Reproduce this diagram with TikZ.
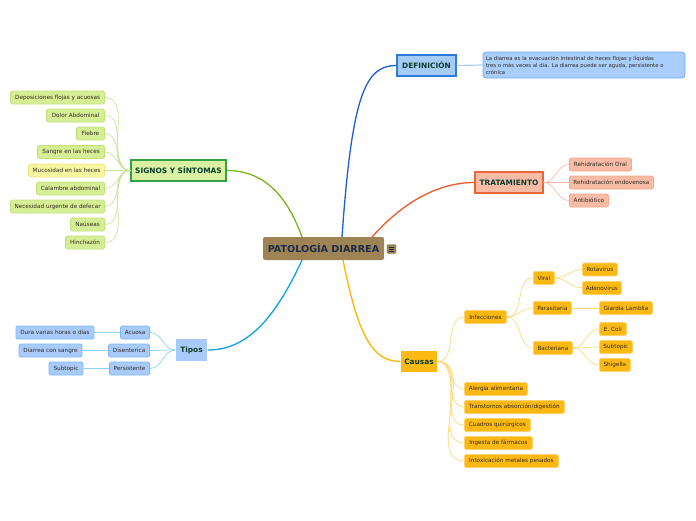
\documentclass[tikz,border=0pt]{standalone}
\usepackage{fontspec}
\setmainfont{DejaVu Sans}
\definecolor{cfill}{HTML}{9E8454}
\definecolor{ctext}{HTML}{1B2A4A}
\definecolor{ttext}{HTML}{0B3D2A}
\definecolor{ltext}{HTML}{2E2A1E}
\definecolor{sgfill}{HTML}{D9F2A2}
\definecolor{sgdraw}{HTML}{34A043}
\definecolor{sgline}{HTML}{7AB51D}
\definecolor{sgcfill}{HTML}{D6EE96}
\definecolor{sgcdraw}{HTML}{C3E07A}
\definecolor{sgcline}{HTML}{C9E39A}
\definecolor{mufill}{HTML}{F6F5A0}
\definecolor{mudraw}{HTML}{EDE580}
\definecolor{dffill}{HTML}{A6CBF7}
\definecolor{dfdraw}{HTML}{2E7BE0}
\definecolor{dfline}{HTML}{1B5FD1}
\definecolor{dtfill}{HTML}{A9CDFC}
\definecolor{dtdraw}{HTML}{78AAF0}
\definecolor{trfill}{HTML}{F8BBA6}
\definecolor{trdraw}{HTML}{E9653A}
\definecolor{trline}{HTML}{EE5A2A}
\definecolor{trcdraw}{HTML}{F3A98E}
\definecolor{trcline}{HTML}{F8BCA8}
\definecolor{cafill}{HTML}{FDB913}
\definecolor{caline}{HTML}{FDB400}
\definecolor{cacdraw}{HTML}{FDD26A}
\definecolor{cacline}{HTML}{FDD87A}
\definecolor{tifill}{HTML}{A9CBFC}
\definecolor{tiline}{HTML}{0AA3E8}
\definecolor{ticdraw}{HTML}{7DB8F4}
\definecolor{ticline}{HTML}{8DD0F8}
\tikzset{
  leaf/.style={rounded corners=1.5pt, minimum height=13pt, inner sep=0pt, line width=0.8pt,
    font=\fontsize{5.7}{6.5}\selectfont, text=ltext},
  title/.style={minimum height=21pt, inner sep=0pt, line width=1.1pt,
    font=\fontsize{7.4}{8.5}\selectfont\bfseries, text=ttext},
  sgleaf/.style={leaf, fill=sgcfill, draw=sgcdraw},
  trleaf/.style={leaf, fill=trfill, draw=trcdraw},
  caleaf/.style={leaf, fill=cafill, draw=cacdraw},
  tileaf/.style={leaf, fill=tifill, draw=ticdraw},
  mainline/.style={line width=1.3pt},
  subline/.style={line width=0.7pt},
}
\begin{document}
\begin{tikzpicture}[x=1pt,y=-1pt]
\useasboundingbox (0,0) rectangle (696,520);
% central
\node[fill=cfill, rounded corners=2pt, minimum width=121pt, minimum height=23pt, inner sep=0pt,
  font=\fontsize{9.6}{11}\selectfont\bfseries, text=ctext] (c) at (323.5,248.5) {PATOLOGÍA DIARREA};
\node[fill=cfill, draw=cfill!70!black, line width=0.4pt, rounded corners=1.2pt, minimum width=9pt, minimum height=9pt, inner sep=0pt] (icon) at (391.5,249) {};
\foreach \dy in {-2,0,2} \draw[line width=0.6pt, ctext] ([xshift=-2.3pt,yshift=\dy pt]icon.center) -- ++(4.6,0);
\coordinate (cn1) at (302,237);
\coordinate (cn2) at (342,237);
\coordinate (cn3) at (372,237);
\coordinate (cs1) at (302,260);
\coordinate (cs2) at (343,260);

% main branches
\node[title, fill=sgfill, draw=sgdraw, minimum width=95pt] (sg) at (178.5,170.5) {SIGNOS Y SÍNTOMAS};
\node[title, fill=dffill, draw=dfdraw, minimum width=59pt] (df) at (426.5,65.5) {DEFINICIÓN};
\node[title, fill=trfill, draw=trdraw, minimum width=68pt] (tr) at (509,182.5) {TRATAMIENTO};
\node[title, fill=cafill, minimum width=36pt] (ca) at (419,361.5) {Causas};
\node[title, fill=tifill, minimum width=31pt, minimum height=22pt] (ti) at (191.5,350) {Tipos};

\draw[mainline, sgline] (cn1) .. controls (285,190) and (260,170.5) .. (sg.east);
\draw[mainline, dfline] (cn2) .. controls (352,95) and (365,65.5) .. (df.west);
\draw[mainline, trline] (cn3) .. controls (405,200) and (440,182.5) .. (tr.west);
\draw[mainline, caline] (cs2) .. controls (358,335) and (372,361.5) .. (ca.west);
\draw[mainline, tiline] (cs1) .. controls (270,330) and (240,350) .. (ti.east);

% definition text
\node[fill=dtfill, draw=dtdraw, line width=0.7pt, rounded corners=3pt, minimum width=202pt, minimum height=26pt,
  inner sep=0pt, text width=196pt, align=left, font=\fontsize{5.3}{7}\selectfont, text=ltext] (dt) at (584,65)
  {La diarrea es la evacuación intestinal de heces flojas y líquidas\\ tres o más veces al día. La diarrea puede ser aguda, persistente o\\ crónica};
\draw[line width=1.2pt, dtfill] (df.east) -- (dt.west);

% signos children
\node[sgleaf, minimum width=94pt, anchor=east] (s1) at (105,97.5) {Deposiciones flojas y acuosas};
\node[sgleaf, minimum width=58pt, anchor=east] (s2) at (105,115.5) {Dolor Abdominal};
\node[sgleaf, minimum width=28pt, anchor=east] (s3) at (105,133.5) {Fiebre};
\node[sgleaf, minimum width=67pt, anchor=east] (s4) at (105,152) {Sangre en las heces};
\node[leaf, fill=mufill, draw=mudraw, minimum width=76pt, anchor=east] (s5) at (105,170.5) {Mucosidad en las heces};
\node[sgleaf, minimum width=68pt, anchor=east] (s6) at (105,188.5) {Calambre abdominal};
\node[sgleaf, minimum width=94pt, anchor=east] (s7) at (105,206.5) {Necesidad urgente de defecar};
\node[sgleaf, minimum width=34pt, anchor=east] (s8) at (105,224.5) {Naúseas};
\node[sgleaf, minimum width=39pt, anchor=east] (s9) at (105,242.5) {Hinchazón};
\foreach \n in {s1,s2,s3,s4,s5,s6,s7,s8,s9}
  \draw[subline, sgcline] (sg.west) to[out=180,in=0] (\n.east);

% tratamiento children
\node[trleaf, minimum width=62pt, anchor=west] (t1) at (569,164.5) {Rehidratación Oral};
\node[trleaf, minimum width=84pt, anchor=west] (t2) at (569,182.5) {Rehidratación endovenosa};
\node[trleaf, minimum width=39pt, anchor=west] (t3) at (569,200.5) {Antibiótico};
\foreach \n in {t1,t2,t3}
  \draw[subline, trcline] (tr.east) to[out=0,in=180] (\n.west);

% causas children
\node[caleaf, minimum width=42pt, anchor=west] (k1) at (464,317) {Infecciones};
\node[caleaf, minimum width=63pt, anchor=west] (k2) at (464,389) {Alergia alimentaria};
\node[caleaf, minimum width=100pt, anchor=west] (k3) at (464,407) {Transtornos absorción/digestión};
\node[caleaf, minimum width=66pt, anchor=west] (k4) at (464,425) {Cuadros quirúrgicos};
\node[caleaf, minimum width=68pt, anchor=west] (k5) at (464,443) {Ingesta de fármacos};
\node[caleaf, minimum width=94pt, anchor=west] (k6) at (464,461) {Intoxicación metales pesados};
\foreach \n in {k1,k2,k3,k4,k5,k6}
  \draw[subline, cacline] (ca.east) to[out=0,in=180] (\n.west);

\node[caleaf, minimum width=21pt, anchor=west] (v) at (533,278) {Viral};
\node[caleaf, minimum width=38pt, anchor=west] (p) at (533,308) {Parasitaria};
\node[caleaf, minimum width=39pt, anchor=west] (b) at (533,348) {Bacteriana};
\foreach \n in {v,p,b}
  \draw[subline, cacline] (k1.east) to[out=0,in=180] (\n.west);

\node[caleaf, minimum width=35pt, anchor=west] (v1) at (582,269.5) {Rotavirus};
\node[caleaf, minimum width=39pt, anchor=west] (v2) at (582,288) {Adenovirus};
\foreach \n in {v1,v2}
  \draw[subline, cacline] (v.east) to[out=0,in=180] (\n.west);
\node[caleaf, minimum width=53pt, anchor=west] (p1) at (599,308) {Giardia Lamblia};
\draw[subline, cacline] (p.east) -- (p1.west);
\node[caleaf, minimum width=27pt, anchor=west] (b1) at (599,329) {E. Coli};
\node[caleaf, minimum width=33pt, anchor=west] (b2) at (599,347) {Subtopic};
\node[caleaf, minimum width=31pt, anchor=west] (b3) at (599,365) {Shigella};
\foreach \n in {b1,b2,b3}
  \draw[subline, cacline] (b.east) to[out=0,in=180] (\n.west);

% tipos children
\node[tileaf, minimum width=29pt, anchor=east] (a1) at (150,332.5) {Acuosa};
\node[tileaf, minimum width=41pt, anchor=east] (a2) at (150,350.5) {Disenterica};
\node[tileaf, minimum width=40pt, anchor=east] (a3) at (150,368.5) {Persistente};
\foreach \n in {a1,a2,a3}
  \draw[subline, ticline] (ti.west) to[out=180,in=0] (\n.east);
\node[tileaf, minimum width=78pt] (g1) at (55,332.5) {Dura varias horas o días};
\node[tileaf, minimum width=63pt] (g2) at (50.5,350.5) {Diarrea con sangre};
\node[tileaf, minimum width=34pt] (g3) at (66,368.5) {Subtopic};
\draw[subline, ticline] (a1.west) -- (g1.east);
\draw[subline, ticline] (a2.west) -- (g2.east);
\draw[subline, ticline] (a3.west) -- (g3.east);
\end{tikzpicture}
\end{document}
